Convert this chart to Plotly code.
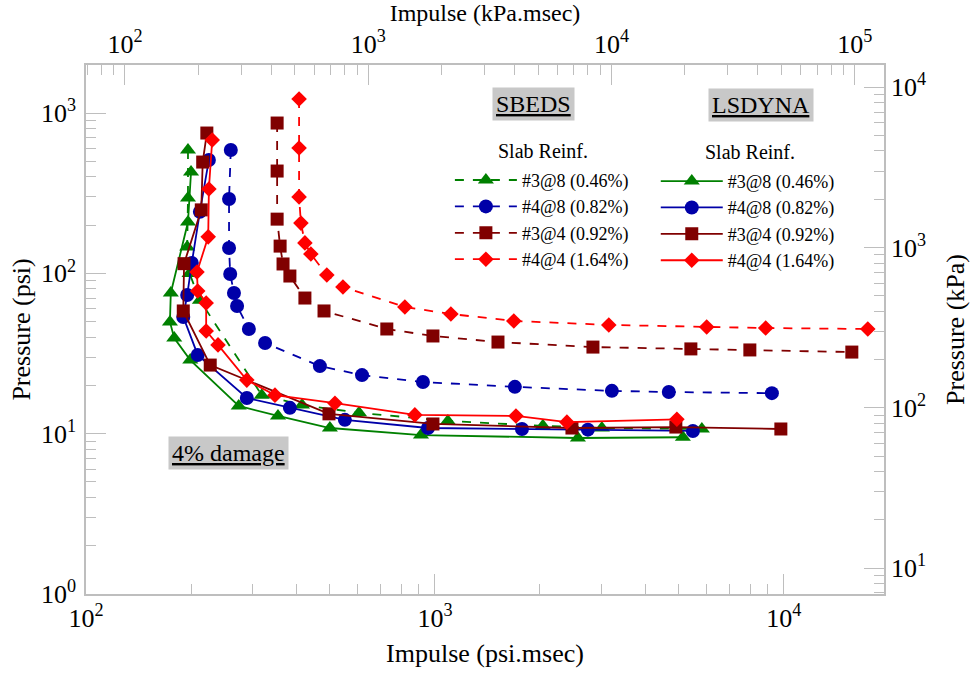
import plotly.graph_objects as go

# ---------------- data (Impulse psi.msec, Pressure psi) ----------------
labels = ["#3@8 (0.46%)", "#4@8 (0.82%)", "#3@4 (0.92%)", "#4@4 (1.64%)"]

sbeds_3at8_I = [196, 196, 195, 198, 212, 319, 416, 606, 1089, 2039, 3009, 5821]
sbeds_3at8_P = [589, 295, 146, 100, 68, 17.4, 15.1, 13.5, 12.0, 11.2, 10.85, 10.7]

sbeds_4at8_I = [260, 257, 257, 259, 265.5, 271, 293, 326, 468, 618, 924, 1695, 3215, 4680, 9240]
sbeds_4at8_P = [589, 291, 144, 99.1, 75.5, 62.6, 45.0, 36.8, 26.4, 23.2, 21.0, 19.6, 18.5, 18.2, 17.9]

sbeds_3at4_I = [353, 353, 353, 360, 367, 384, 424, 481, 728, 987, 1516, 2837, 5414, 7990, 15660]
sbeds_3at4_P = [867, 435, 218, 148, 114.5, 96.3, 70.2, 58.3, 45.0, 40.7, 37.3, 34.7, 33.8, 33.3, 32.3]

sbeds_4at4_I = [408, 408, 408, 413, 424, 441, 490, 545, 820, 1111, 1683, 3150, 6010, 8870, 17400]
sbeds_4at4_P = [1224, 606, 300, 206, 155, 132, 97.7, 82.3, 61.7, 55.8, 50.5, 47.7, 46.3, 45.6, 45.0]

lsdyna_3at8_I = [200, 196, 175, 174, 179, 199, 274, 355, 500, 912, 2569, 5136]
lsdyna_3at8_P = [429, 209, 75.5, 49.8, 39.5, 28.8, 14.9, 12.9, 10.85, 9.8, 9.4, 9.5]

lsdyna_4at8_I = [225, 212, 201, 195, 190, 209, 289, 384, 552, 955, 1776, 2744, 5487]
lsdyna_4at8_P = [510, 242, 116, 73.3, 53.5, 31.0, 16.7, 14.5, 12.2, 10.85, 10.7, 10.6, 10.4]

lsdyna_3at4_I = [222, 216, 214, 191, 190, 227, 497, 987, 2470, 4903, 9804]
lsdyna_3at4_P = [751, 495, 249, 115, 58.3, 26.8, 13.3, 11.5, 10.85, 11.0, 10.7]

lsdyna_4at4_I = [230, 225, 224, 208, 209, 221, 221, 239, 289, 348, 517, 876, 1707, 2389, 4936]
lsdyna_4at4_P = [679, 336, 169, 102, 77.7, 65.4, 43.7, 35.8, 21.6, 17.4, 15.5, 13.1, 12.9, 11.8, 12.3]

colors = ["#008000", "#0000A8", "#800000", "#FF0000"]
symbols = ["triangle-up", "circle", "square", "diamond"]
msizes = [14, 14, 13, 12]

sbeds = [(sbeds_3at8_I, sbeds_3at8_P), (sbeds_4at8_I, sbeds_4at8_P),
         (sbeds_3at4_I, sbeds_3at4_P), (sbeds_4at4_I, sbeds_4at4_P)]
lsdyna = [(lsdyna_3at8_I, lsdyna_3at8_P), (lsdyna_4at8_I, lsdyna_4at8_P),
          (lsdyna_3at4_I, lsdyna_3at4_P), (lsdyna_4at4_I, lsdyna_4at4_P)]

FONT = "Liberation Serif, Times New Roman, Times, serif"
fig = go.Figure()

for i, (xs, ys) in enumerate(sbeds):
    fig.add_trace(go.Scatter(x=xs, y=ys, mode="lines+markers", name=labels[i],
                             line=dict(color=colors[i], width=1.8, dash="dash"),
                             marker=dict(symbol=symbols[i], size=msizes[i], color=colors[i]),
                             legend="legend"))
for i, (xs, ys) in enumerate(lsdyna):
    fig.add_trace(go.Scatter(x=xs, y=ys, mode="lines+markers", name=labels[i],
                             line=dict(color=colors[i], width=1.8),
                             marker=dict(symbol=symbols[i], size=msizes[i], color=colors[i]),
                             legend="legend2"))

# invisible trace for secondary axes
fig.add_trace(go.Scatter(x=[1000], y=[100], xaxis="x2", yaxis="y2", mode="markers",
                         marker=dict(opacity=0), showlegend=False, hoverinfo="skip"))

def ticks(lo, hi):
    major = [10 ** k for k in range(lo, hi + 1)]
    minor = [m * 10 ** k for k in range(lo - 1, hi + 1) for m in range(2, 10)]
    text = ["10<sup>%d</sup>" % k for k in range(lo, hi + 1)]
    return major, text, minor

AX = "#BEBEBE"
def axis(lo, hi, rng, title, side, standoff, tsize, lstand=0, **kw):
    major, text, minor = ticks(lo, hi)
    return dict(type="log", range=rng, side=side, tickmode="array", tickvals=major, ticktext=text,
                ticks="inside", ticklen=20, tickcolor=AX, tickwidth=1,
                minor=dict(tickmode="array", tickvals=minor, ticks="inside", ticklen=10, tickcolor=AX),
                showline=True, linecolor=AX, linewidth=1.5, showgrid=False, zeroline=False,
                automargin=False, ticklabelstandoff=lstand,
                tickfont=dict(family=FONT, size=26, color="black"),
                title=dict(text=title, standoff=standoff,
                           font=dict(family=FONT, size=tsize, color="black")),
                **kw)

fig.update_layout(
    width=975, height=674, paper_bgcolor="white", plot_bgcolor="white",
    margin=dict(l=86, r=91, t=65, b=80, autoexpand=False),
    font=dict(family=FONT, color="black"),
    xaxis=axis(2, 4, [2, 4.287], "Impulse (psi.msec)", "bottom", 12, 26),
    yaxis=axis(0, 3, [0, 3.3], "Pressure (psi)", "left", 3, 26, 3),
    xaxis2=axis(2, 5, [1.84, 5.12], "Impulse (kPa.msec)", "top", 10, 24, overlaying="x", anchor="y"),
    yaxis2=axis(1, 4, [0.8385, 4.1385], "Pressure (kPa)", "right", 21, 26, overlaying="y", anchor="x"),
    legend=dict(x=0.456, y=0.817, xanchor="left", yanchor="top", bgcolor="rgba(0,0,0,0)",
                font=dict(family=FONT, size=18), itemwidth=62, tracegroupgap=0),
    legend2=dict(x=0.714, y=0.815, xanchor="left", yanchor="top", bgcolor="rgba(0,0,0,0)",
                 font=dict(family=FONT, size=18), itemwidth=62, tracegroupgap=0),
    showlegend=True,
)

def boxed(text, x, y, size):
    return dict(text="<u>%s</u>" % text, x=x, y=y, xref="paper", yref="paper",
                xanchor="center", yanchor="middle",
                showarrow=False, bgcolor="#C8C8C8", borderpad=3,
                font=dict(family=FONT, size=size, color="black"))

px = lambda p: (p - 86) / 798.0
py = lambda p: (594 - p) / 529.0
fig.add_annotation(**boxed("SBEDS", px(533), py(104), 24))
fig.add_annotation(**boxed("LSDYNA", px(761), py(105), 24))
fig.add_annotation(**boxed("4% damage", px(228), py(453), 24))
for xx, yy in [(543, 151), (750, 152)]:
    fig.add_annotation(text="Slab Reinf.", x=px(xx), y=py(yy), xref="paper", yref="paper",
                       xanchor="center", yanchor="middle", showarrow=False,
                       font=dict(family=FONT, size=20, color="black"))

fig.write_html("out.html")
